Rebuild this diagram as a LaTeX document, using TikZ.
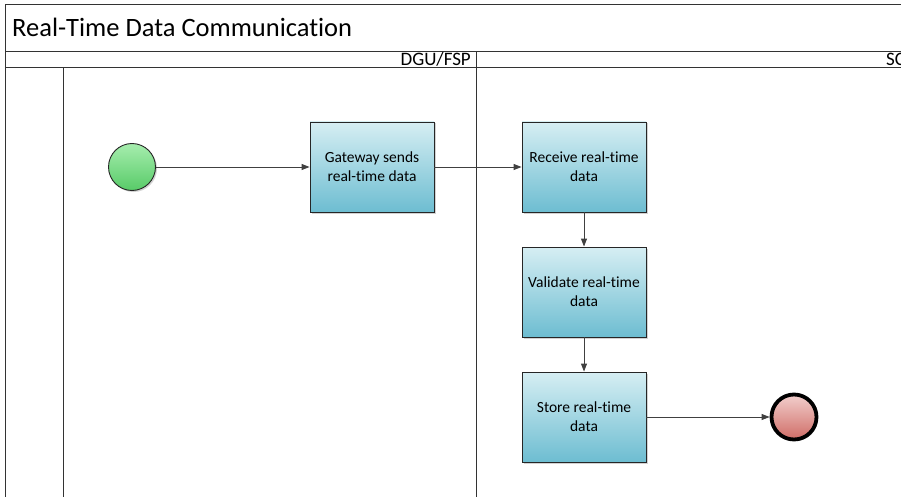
\documentclass[tikz,border=0pt]{standalone}
\usepackage{fontspec}
\setmainfont{Carlito}[Ligatures=CommonOff]
\usetikzlibrary{shadows,arrows.meta}
\definecolor{taskTop}{HTML}{D6EEF3}
\definecolor{taskBot}{HTML}{6DBDD1}
\definecolor{startTop}{HTML}{A6EDAE}
\definecolor{startBot}{HTML}{58CB68}
\definecolor{endTop}{HTML}{F2CFCD}
\definecolor{endBot}{HTML}{CF6C66}
\begin{document}
\begin{tikzpicture}[x=1pt, y=-1pt,
    every node/.style={font=\fontsize{15.5}{19}\selectfont},
    lane/.style={line width=1pt, black!80},
    task/.style={draw=black!85, line width=0.9pt, minimum width=124pt, minimum height=90pt,
        align=center, top color=taskTop, bottom color=taskBot,
        drop shadow={shadow xshift=1.5pt, shadow yshift=-1.5pt, fill=black!35}},
    startev/.style={circle, draw=black!85, line width=0.9pt, minimum size=47pt, inner sep=0pt,
        top color=startTop, bottom color=startBot,
        drop shadow={shadow xshift=1.5pt, shadow yshift=-1.5pt, fill=black!35}},
    endev/.style={circle, draw=black, line width=3.8pt, minimum size=45pt, inner sep=0pt,
        top color=endTop, bottom color=endBot,
        drop shadow={shadow xshift=1.5pt, shadow yshift=-1.5pt, fill=black!35}},
    flow/.style={-{Triangle[length=8pt,width=6pt]}, line width=0.9pt, black!75}]
    \useasboundingbox (0,0) rectangle (901,497);
    \clip (0,0) rectangle (901,497);

    % pool and lanes
    \draw[lane] (5,497) -- (5,5) -- (905,5);
    \draw[lane] (5,52) -- (905,52);
    \draw[lane] (5,68) -- (905,68);
    \draw[lane] (63,68) -- (63,497);
    \draw[lane] (476,52) -- (476,497);

    \node[anchor=base west, inner sep=0pt, font=\fontsize{26.5}{30}\selectfont] (title) at (12,37) {Real-Time Data Communication};
    \node[anchor=base east, inner sep=0pt, font=\fontsize{19}{22}\selectfont] (dgu) at (471,66) {DGU/FSP};
    \node[anchor=base west, inner sep=0pt, font=\fontsize{19}{22}\selectfont] (sc) at (886,66) {SC};

    % events and tasks
    \node[startev] (start) at (132,167) {};
    \node[task] (send) at (372,167) {Gateway sends\\real-time data};
    \node[task] (receive) at (584,167) {Receive real-time\\data};
    \node[task] (validate) at (584,292) {Validate real-time\\data};
    \node[task] (store) at (584,417) {Store real-time\\data};
    \node[endev] (end) at (794,417) {};

    % sequence flows
    \draw[flow] (start) -- (send);
    \draw[flow] (send) -- (receive);
    \draw[flow] (receive) -- (validate);
    \draw[flow] (validate) -- (store);
    \draw[flow] (store) -- (end);
\end{tikzpicture}
\end{document}
